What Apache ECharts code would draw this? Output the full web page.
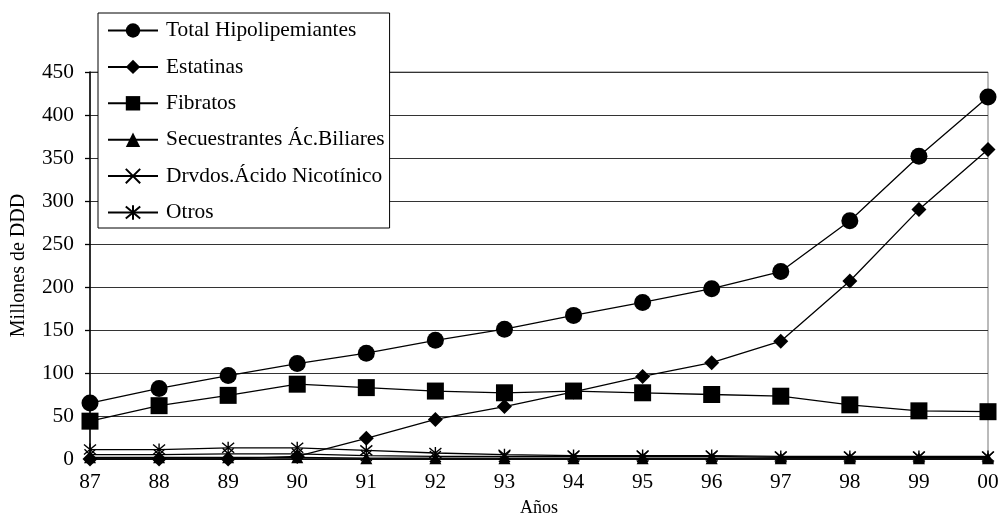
<!DOCTYPE html>
<html><head><meta charset="utf-8">
<script src="https://cdn.jsdelivr.net/npm/echarts@6/dist/echarts.min.js"></script>
<style>html,body{margin:0;padding:0;background:#fff}#c{width:998px;height:521px}</style>
</head><body><div id="c"></div>
<script>
const years = ['87','88','89','90','91','92','93','94','95','96','97','98','99','00'];
const yTicks = [0,50,100,150,200,250,300,350,400,450];
const total = [65,82,97,111,123,138,151,167,182,198,218,277,352,421];
const estatinas = [0,0,0,3,24,46,61,78,96,112,137,207,290,360];
const fibratos = [44,62,74,87,83,79,77,79,77,75,73,63,56,55];
const secuestrantes = [2,2,2,2,1,1,1,1,1,1,1,1,1,1];
const nicotinico = [5,5,6,6,4,3,3,3,3,3,2,2,2,2];
const otros = [11,11,13,13,10,7,5,4,4,4,3,3,3,3];
const names = ['Total Hipolipemiantes','Estatinas','Fibratos','Secuestrantes Ác.Biliares','Drvdos.Ácido Nicotínico','Otros'];

const FONT = 'Liberation Serif';
const X_PATH = 'path://M0,0L10,10M10,0L0,10';
const AST_PATH = 'path://M0,0L10,10M10,0L0,10M5,-1L5,11';

function mk(name, data, symbol, size, stroke) {
  return {
    name, type: 'line', data, symbol, symbolSize: size,
    lineStyle: {color: '#000', width: 1.3},
    itemStyle: stroke ? {color: '#000', borderColor: '#000', borderWidth: 1.4} : {color: '#000', borderWidth: 0},
    emphasis: {disabled: true}, animation: false
  };
}

const chart = echarts.init(document.getElementById('c'), null, {renderer: 'canvas'});
chart.setOption({
  animation: false,
  backgroundColor: '#fff',
  textStyle: {fontFamily: FONT},
  grid: {left: 90, right: 10, top: 72, bottom: 62, show: true, borderColor: '#777', borderWidth: 1,
         backgroundColor: 'transparent', containLabel: false, outerBoundsMode: 'none'},
  legend: {
    orient: 'vertical', left: 98, top: 13,
    padding: [7, 5, 5, 9],
    itemGap: 15.4, itemWidth: 50, itemHeight: 18,
    borderColor: '#000', borderWidth: 1, backgroundColor: '#fff',
    textStyle: {fontFamily: FONT, fontSize: 21.4, color: '#000', padding: [0,0,0,3]},
    data: names, selectedMode: false
  },
  xAxis: {
    type: 'category', data: years, boundaryGap: false,
    name: 'Años', nameLocation: 'middle', nameGap: 40,
    nameTextStyle: {fontFamily: FONT, fontSize: 18, color: '#000'},
    axisLine: {lineStyle: {color: '#000', width: 1.5}},
    axisTick: {show: false},
    axisLabel: {fontFamily: FONT, fontSize: 21.4, color: '#000', margin: 13}
  },
  yAxis: {
    type: 'value', min: 0, max: 450, interval: 50,
    name: 'Millones de DDD', nameLocation: 'middle', nameGap: 61,
    nameTextStyle: {fontFamily: FONT, fontSize: 20, color: '#000'},
    axisLine: {show: true, lineStyle: {color: '#000', width: 1.5}},
    axisTick: {show: true, length: 5, lineStyle: {color: '#000', width: 1.3}},
    axisLabel: {fontFamily: FONT, fontSize: 21.4, color: '#000', margin: 16,
      formatter: v => yTicks.includes(v) ? String(v) : ''},
    splitLine: {lineStyle: {color: '#333', width: 1}}
  },
  series: [
    mk(names[0], total, 'circle', 17, false),
    mk(names[1], estatinas, 'diamond', 15, false),
    mk(names[2], fibratos, 'rect', 17, false),
    mk(names[3], secuestrantes, 'triangle', 12, false),
    mk(names[4], nicotinico, X_PATH, 11, true),
    mk(names[5], otros, AST_PATH, 12, true)
  ]
});
</script></body></html>
